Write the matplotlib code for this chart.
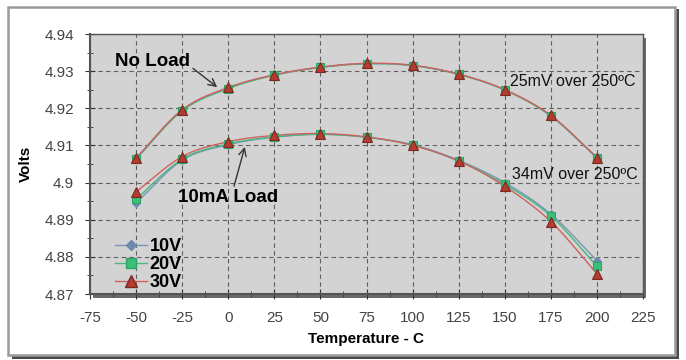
import numpy as np
import matplotlib
matplotlib.use("Agg")
import matplotlib.pyplot as plt
from matplotlib.patches import Rectangle

plt.rcParams["font.family"] = ["Liberation Sans", "DejaVu Sans"]
plt.rcParams["axes.unicode_minus"] = False

temps = [-50, -25, 0, 25, 50, 75, 100, 125, 150, 175, 200]
noload_10v = [4.9065, 4.9195, 4.9255, 4.9290, 4.9310, 4.9320, 4.9315, 4.9292, 4.9250, 4.9180, 4.9068]
noload_20v = [4.9063, 4.9193, 4.9253, 4.9289, 4.9310, 4.9320, 4.9315, 4.9291, 4.9249, 4.9179, 4.9066]
noload_30v = [4.9066, 4.9196, 4.9256, 4.9290, 4.9311, 4.9321, 4.9316, 4.9292, 4.9250, 4.9181, 4.9067]
load_10v = [4.8945, 4.9060, 4.9102, 4.9122, 4.9130, 4.9122, 4.9102, 4.9060, 4.9000, 4.8915, 4.8790]
load_20v = [4.8955, 4.9063, 4.9104, 4.9123, 4.9130, 4.9122, 4.9101, 4.9058, 4.8995, 4.8910, 4.8775]
load_30v = [4.8975, 4.9070, 4.9110, 4.9127, 4.9132, 4.9123, 4.9100, 4.9058, 4.8990, 4.8895, 4.8755]
series_names = ["10V", "20V", "30V"]
xticks = [-75, -50, -25, 0, 25, 50, 75, 100, 125, 150, 175, 200, 225]
yticks = [4.87, 4.88, 4.89, 4.90, 4.91, 4.92, 4.93, 4.94]
ytick_labels = ["4.87", "4.88", "4.89", "4.9", "4.91", "4.92", "4.93", "4.94"]


def smooth(x, y, n=20):
    x = np.asarray(x, float)
    y = np.asarray(y, float)
    P = np.column_stack([x, y])
    P = np.vstack([2 * P[0] - P[1], P, 2 * P[-1] - P[-2]])
    out = []
    for i in range(1, len(P) - 2):
        p0, p1, p2, p3 = P[i - 1], P[i], P[i + 1], P[i + 2]
        t = np.linspace(0, 1, n, endpoint=False)[:, None]
        c = 0.5 * ((2 * p1) + (-p0 + p2) * t + (2 * p0 - 5 * p1 + 4 * p2 - p3) * t ** 2
                   + (-p0 + 3 * p1 - 3 * p2 + p3) * t ** 3)
        out.append(c)
    out.append(P[-2][None, :])
    c = np.vstack(out)
    return c[:, 0], c[:, 1]


fig = plt.figure(figsize=(6.86, 3.60), dpi=100)
fig.patch.set_facecolor("white")

W, H = 686, 360
fig.patches.append(Rectangle((12 / W, 1 - 359 / H), 667 / W, 350 / H, transform=fig.transFigure,
                             facecolor="#4a4a4a", edgecolor="none", zorder=-3))
fig.patches.append(Rectangle((8 / W, 1 - 355 / H), 667 / W, 348 / H, transform=fig.transFigure,
                             facecolor="white", edgecolor="#9a9a9a", linewidth=1.8, zorder=-2))
fig.patches.append(Rectangle((93 / W, 1 - 298 / H), 553 / W, 260 / H, transform=fig.transFigure,
                             facecolor="#6a6a6a", edgecolor="none", zorder=-1))

ax = fig.add_axes([90 / W, 1 - 294 / H, 553 / W, 260 / H])
ax.set_zorder(1)
ax.set_facecolor("#d3d3d3")

ax.set_xlim(-75, 225)
ax.set_ylim(4.87, 4.94)
ax.set_xticks(xticks)
ax.set_yticks(yticks)
ax.set_yticklabels(ytick_labels)
ax.set_xticks(np.arange(-62.5, 225, 25), minor=True)
ax.set_yticks(np.arange(4.875, 4.94, 0.01), minor=True)
ax.grid(True, which="major", linestyle=(0, (4, 3)), color="#606060", linewidth=0.8)
ax.tick_params(axis="both", which="major", labelsize=11, labelcolor="#444444", color="#333333",
               direction="inout", length=7)
ax.tick_params(axis="both", which="minor", direction="inout", length=4, color="#333333")
ax.tick_params(axis="x", pad=9)
ax.tick_params(axis="y", pad=8)
for s in ax.spines.values():
    s.set_color("#555555")
    s.set_linewidth(1.0)
ax.spines["bottom"].set_linewidth(1.5)
ax.spines["left"].set_linewidth(1.5)

styles = [
    dict(color="#7a95b5", marker="D", ms=4.5, mfc="#6d89ab", mec="#6d89ab"),
    dict(color="#48b87f", marker="s", ms=6, mfc="#3cbf7a", mec="#2ea566"),
    dict(color="#d06060", marker="^", ms=7, mfc="#b53a30", mec="#7a2a20"),
]
noload = [noload_10v, noload_20v, noload_30v]
load = [load_10v, load_20v, load_30v]
for i in range(3):
    st = styles[i]
    for data in (noload[i], load[i]):
        sx, sy = smooth(temps, data)
        ax.plot(sx, sy, color=st["color"], lw=1.0, zorder=3)
        ax.plot(temps, data, linestyle="none", marker=st["marker"], ms=st["ms"],
                mfc=st["mfc"], mec=st["mec"], mew=0.8, zorder=4 + i)
    ax.plot([], [], color=st["color"], lw=1.0, marker=st["marker"], ms=st["ms"] + 1,
            mfc=st["mfc"], mec=st["mec"], label=series_names[i])

leg = ax.legend(loc="lower left", bbox_to_anchor=(0.025, -0.03), frameon=False,
                prop=dict(weight="bold", size=13), handlelength=1.8, handletextpad=0.15,
                labelspacing=0.05, borderaxespad=0.2)

ax.annotate("No Load", xy=(-6, 4.9257), xytext=(-41, 4.9327), ha="center", va="center",
            fontsize=13.5, fontweight="bold",
            arrowprops=dict(arrowstyle="->", color="#333333", lw=1.0, shrinkA=0,
                            shrinkB=0, relpos=(1.0, 0.2)))
ax.annotate("10mA Load", xy=(9, 4.9096), xytext=(0, 4.8960), ha="center", va="center",
            fontsize=13.5, fontweight="bold",
            arrowprops=dict(arrowstyle="->", color="#333333", lw=1.0, shrinkA=0,
                            shrinkB=0, relpos=(0.55, 1.0)))
ax.text(153, 4.9272, "25mV over 250ºC", fontsize=11.5, ha="left", va="center", color="#111111")
ax.text(154, 4.9023, "34mV over 250ºC", fontsize=11.5, ha="left", va="center", color="#111111")

ax.set_ylabel("Volts", fontsize=11, fontweight="bold", labelpad=8)
ax.set_xlabel("Temperature - C", fontsize=11, fontweight="bold", labelpad=5)

fig.savefig("out.png", dpi=100)
